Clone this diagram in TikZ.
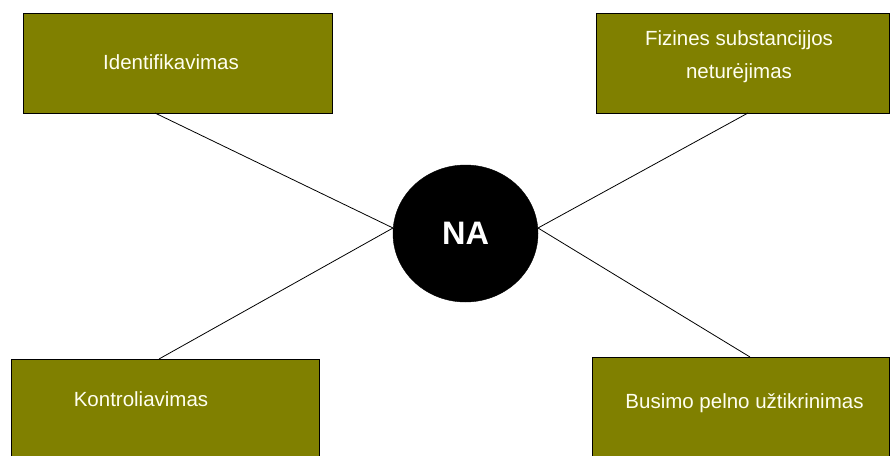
\documentclass[tikz,border=0pt]{standalone}
\usepackage{fontspec}
\setmainfont{Liberation Sans}
\usetikzlibrary{shapes.geometric}
\definecolor{olivebox}{HTML}{808000}
\definecolor{cream}{HTML}{FFFFF0}
\begin{document}
\begin{tikzpicture}[x=1pt,y=-1pt,
  box/.style={draw=black,line width=0.9pt,fill=olivebox,inner sep=0pt,anchor=north west},
  boxtext/.style={text=cream,font=\fontsize{20.5}{33}\selectfont,align=center,inner sep=0pt},
  link/.style={draw=black,line width=0.8pt}]
\useasboundingbox (0,0) rectangle (891,455);
\clip (0,0) rectangle (891,455);
\fill[white] (0,0) rectangle (891,455);

% four feature boxes
\node[box,minimum width=309pt,minimum height=100pt] (id) at (23,13) {};
\node[box,minimum width=293pt,minimum height=100pt] (fz) at (596,13) {};
\node[box,minimum width=308pt,minimum height=100pt] (kt) at (11,359) {};
\node[box,minimum width=297pt,minimum height=100pt] (bp) at (592,357) {};

\node[boxtext] (idt) at (171,62) {Identifikavimas};
\node[boxtext] (fzt) at (739,57) {Fizines substancijjos\\neturėjimas};
\node[boxtext] (ktt) at (141,399) {Kontroliavimas};
\node[boxtext] (bpt) at (744.5,403) {Busimo pelno užtikrinimas};

% central node
\node[ellipse,fill=black,draw=black,inner sep=0pt,minimum width=145pt,minimum height=137pt,
      text=white,font=\fontsize{32.5}{36}\selectfont\bfseries] (na) at (465.5,233.5) {NA};

\coordinate (nl) at (393,228);
\coordinate (nr) at (538,228);
\coordinate (idb) at (155,113);
\coordinate (fzb) at (748,113);
\coordinate (ktb) at (159,359);
\coordinate (bpb) at (750,357);

\draw[link] (idb) -- (nl);
\draw[link] (ktb) -- (nl);
\draw[link] (fzb) -- (nr);
\draw[link] (bpb) -- (nr);
\end{tikzpicture}
\end{document}
